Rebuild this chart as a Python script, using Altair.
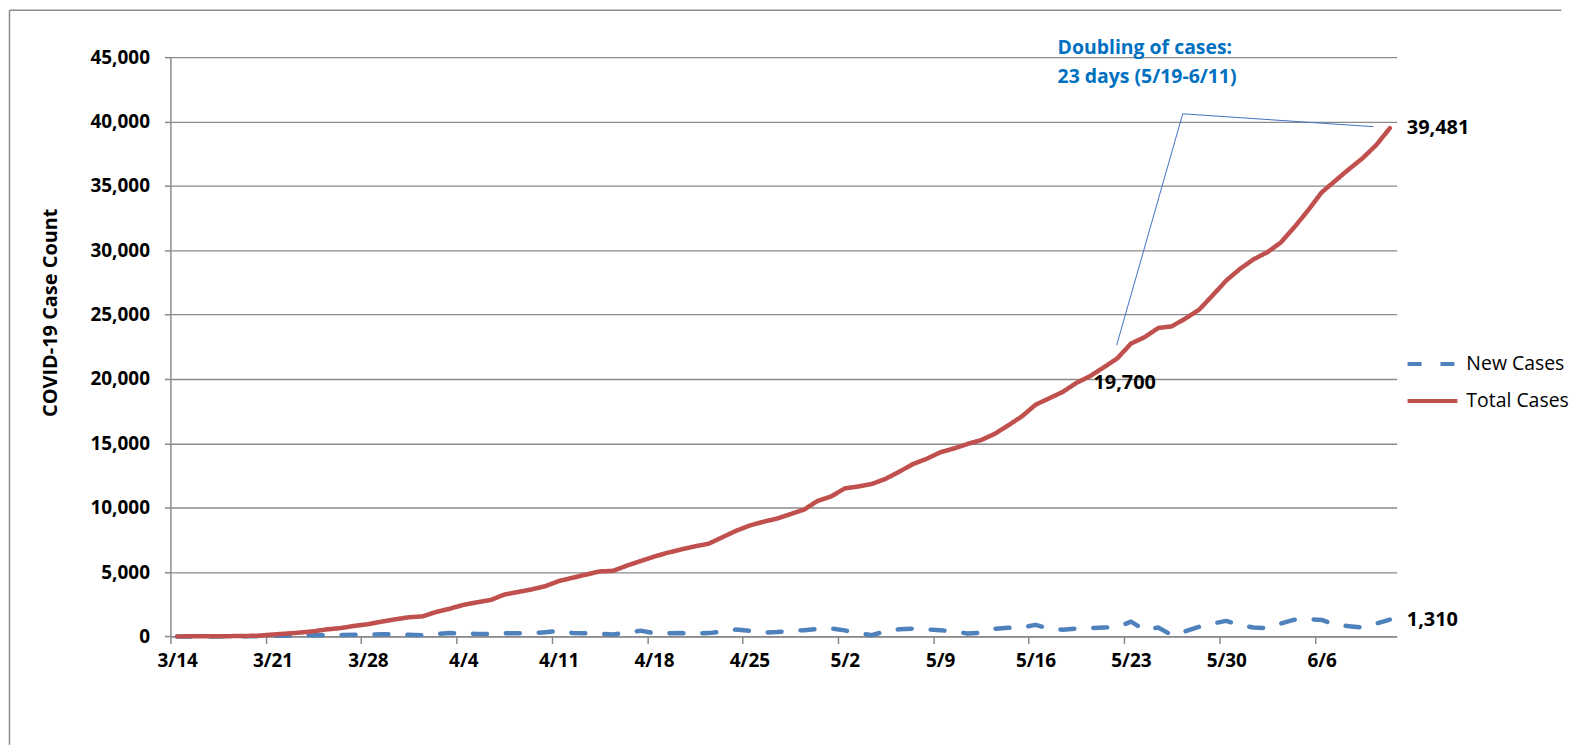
import altair as alt
import pandas as pd

# ---------------- data ----------------
start_date = "2020-03-14"
tick_labels = ["3/14", "3/21", "3/28", "4/4", "4/11", "4/18", "4/25",
               "5/2", "5/9", "5/16", "5/23", "5/30", "6/6"]
y_ticks = [0, 5000, 10000, 15000, 20000, 25000, 30000, 35000, 40000, 45000]

# one value per day, 3/14 ... 6/11
total_cases = [
    5, 8, 12, 18, 25, 40, 60,
    150, 220, 300, 400, 550, 650, 820,
    950, 1150, 1330, 1490, 1560, 1900, 2150,
    2450, 2650, 2830, 3250, 3450, 3650, 3900,
    4300, 4550, 4800, 5050, 5100, 5500, 5850,
    6200, 6500, 6760, 7000, 7200, 7700, 8200,
    8610, 8900, 9150, 9500, 9850, 10530, 10880,
    11500, 11650, 11850, 12250, 12800, 13390, 13800,
    14300, 14600, 14950, 15250, 15740, 16400, 17100,
    18000, 18500, 19000, 19700, 20220, 20900, 21600,
    22750, 23250, 23960, 24090, 24700, 25380, 26500,
    27650, 28550, 29300, 29840, 30600, 31800, 33100,
    34500, 35400, 36300, 37150, 38171, 39481,
]
new_cases = [
    0, 2, 3, 5, 10, 15, 25,
    40, 60, 75, 90, 100, 120, 130,
    150, 170, 160, 130, 100, 180, 260,
    240, 200, 190, 260, 240, 260, 320,
    430, 270, 250, 200, 150, 300, 450,
    250, 250, 260, 230, 260, 380, 540,
    430, 300, 340, 420, 490, 570, 620,
    470, 250, 100, 420, 560, 600, 550,
    480, 390, 230, 290, 600, 680, 700,
    900, 600, 520, 620, 650, 700, 720,
    1150, 500, 700, 100, 400, 750, 1000,
    1210, 880, 700, 650, 1000, 1300, 1340,
    1280, 900, 800, 700, 1000, 1310,
]
series_names = ["New Cases", "Total Cases"]

# callout (annotation) line: position in days from the 3/14 axis start, and case value
callout_days = [69.45, 74.3, 88.3]
callout_values = [22620, 40600, 39600]
annotation_lines = ["Doubling of cases:", "23 days (5/19-6/11)"]
labelled_points = [("Total Cases", 66), ("Total Cases", 89), ("New Cases", 89)]

# ---------------- build tables ----------------
t0 = pd.Timestamp(start_date)
def ms(days):
    return int((t0 + pd.Timedelta(days=days)).timestamp() * 1000)

# Excel date axis: each day's point sits in the middle of its day slot
dates = [ms(i + 0.5) for i in range(len(total_cases))]
rows = []
for i, d in enumerate(dates):
    rows.append({"date": d, "value": new_cases[i], "series": "New Cases"})
for i, d in enumerate(dates):
    rows.append({"date": d, "value": total_cases[i], "series": "Total Cases"})
df = pd.DataFrame(rows)

tick_values = [int(pd.Timestamp(f"2020-{s.split('/')[0]}-{s.split('/')[1]}").timestamp() * 1000)
               for s in tick_labels]
x_domain = [ms(0), ms(90)]

lab_rows = []
for s, i in labelled_points:
    v = total_cases[i] if s == "Total Cases" else new_cases[i]
    lab_rows.append({"date": dates[i], "value": v, "label": f"{v:,}"})
df_lab = pd.DataFrame(lab_rows)

df_call = pd.DataFrame({"date": [ms(d) for d in callout_days],
                        "value": callout_values,
                        "order": list(range(len(callout_days)))})

FONT = "Open Sans"
GRAY = "#8a8a8a"
BLUE = "#4F81BD"
RED = "#C0504D"

x_enc = alt.X("date:T",
              scale=alt.Scale(type="utc", domain=x_domain),
              axis=alt.Axis(values=tick_values, format="%-m/%-d", title=None,
                            labelFont=FONT, labelFontSize=19, labelFontWeight="bold",
                            labelColor="#000000", labelFlush=False, labelOverlap=False,
                            labelOffset=6.8,
                            tickSize=7, tickColor=GRAY, tickWidth=1.5,
                            domainColor=GRAY, domainWidth=1.5, grid=False,
                            labelPadding=8))
y_enc = alt.Y("value:Q",
              scale=alt.Scale(domain=[0, 45000], nice=False),
              axis=alt.Axis(values=y_ticks, format=",d", title="COVID-19 Case Count",
                            labelFont=FONT, labelFontSize=19, labelFontWeight="bold",
                            labelColor="#000000", tickSize=6, tickColor=GRAY, tickWidth=1.5,
                            domainColor=GRAY, domainWidth=1.5,
                            grid=True, gridColor=GRAY, gridWidth=1.3,
                            labelPadding=15,
                            titleFont=FONT, titleFontSize=20, titleFontWeight="bold",
                            titleColor="#000000", titleAngle=270, titleAlign="center",
                            titleBaseline="middle", titleX=-120, titleY=256))

lines = alt.Chart(df).mark_line(strokeWidth=4.5, strokeCap="round", strokeJoin="round").encode(
    x=x_enc, y=y_enc,
    color=alt.Color("series:N", title=None,
                    scale=alt.Scale(domain=series_names, range=[BLUE, RED])),
    strokeDash=alt.StrokeDash("series:N", title=None,
                              scale=alt.Scale(domain=series_names, range=[[14, 19], [1, 0]])),
    order=alt.Order("date:T"),
)

labels = alt.Chart(df_lab).mark_text(align="left", baseline="middle", dx=17,
                                     font=FONT, fontSize=20, fontWeight="bold",
                                     color="#000000").encode(
    x="date:T", y="value:Q", text="label:N")

callout = alt.Chart(df_call).mark_line(color="#4472C4", strokeWidth=1).encode(
    x="date:T", y="value:Q", order="order:Q")

one = pd.DataFrame({"a": [0]})
annot = alt.Chart(one).mark_text(align="left", baseline="alphabetic", font=FONT,
                                 fontSize=19.5, fontWeight="bold", color="#0070C0",
                                 lineHeight=29, text=annotation_lines).encode(
    x=alt.value(890.4), y=alt.value(-3.2))

frame_left = alt.Chart(one).mark_rule(color=GRAY, strokeWidth=1.5).encode(
    x=alt.value(-161.5), y=alt.value(-47.15), y2=alt.value(690))
frame_top = alt.Chart(one).mark_rule(color=GRAY, strokeWidth=1.5).encode(
    x=alt.value(-161.5), x2=alt.value(1396), y=alt.value(-47.15))

chart = alt.layer(frame_left, frame_top, lines, callout, labels, annot).properties(
    width=1230.7, height=581.4, padding=0
).configure_view(stroke=None).configure_legend(
    orient="none", legendX=1239.7, legendY=281, padding=0,
    symbolType="stroke", symbolSize=2500, symbolStrokeWidth=4,
    labelFont=FONT, labelFontSize=19.5, labelColor="#000000", labelOffset=7,
    rowPadding=-9,
)

chart.save("out.html", embed_options={"renderer": "svg", "actions": False})
